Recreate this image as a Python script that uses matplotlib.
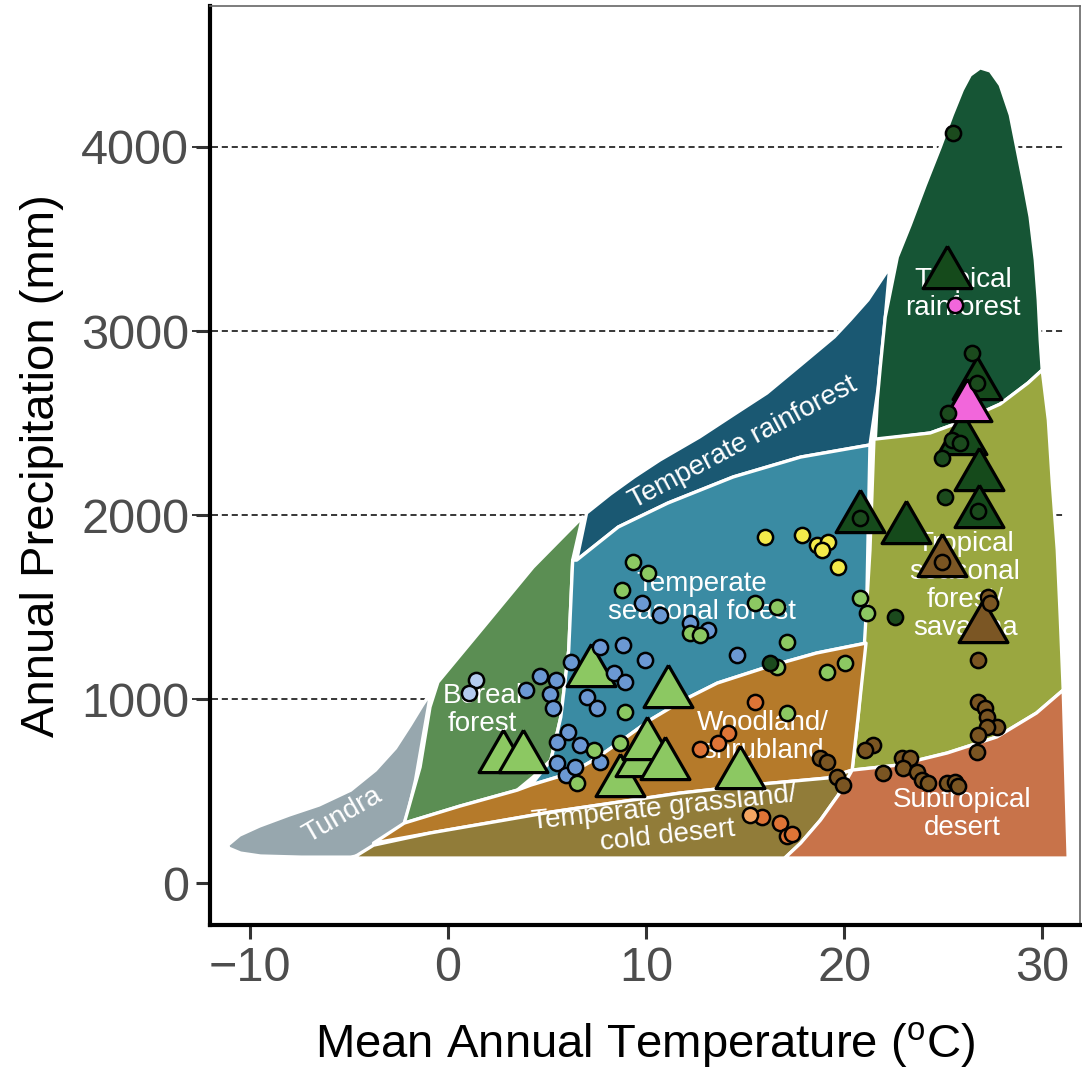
import matplotlib
matplotlib.use('Agg')
import matplotlib.pyplot as plt
from matplotlib.patches import Polygon

plt.rcParams['font.family'] = ['Liberation Sans', 'DejaVu Sans']

# biome outlines (temperature degC, precipitation mm)
tundra_t = [-11.1, -10.5, -9.5, -8.0, -6.5, -4.9, -3.65, -2.64, -1.89, -1.28, -0.87, -0.97, -1.28,
            -1.63, -1.99, -2.29, -2.79, -3.65, -4.9, -7.4, -9.45, -10.46, -11.06]
tundra_p = [207, 261, 310, 370, 424, 505, 614, 734, 859, 967, 1033, 967, 777,
            560, 397, 288, 217, 168, 141, 141, 147, 163, 190]

boreal_t = [6.8, 4.3, 1.8, -0.5, -0.9, -1.4, -2.2, 0.6, 3.5, 4.3, 5.2, 5.7, 6.1, 6.3]
boreal_p = [1990, 1717, 1391, 1092, 957, 630, 326, 418, 505, 576, 668, 902, 1266, 1755]

temp_rain_t = [6.5, 7.0, 8.2, 9.4, 10.7, 12.7, 14.4, 16.1, 17.8, 19.5, 20.3, 21.2, 22.3,
               22.0, 21.7, 21.3, 17.8, 14.4, 11.1, 8.6]
temp_rain_p = [1755, 2011, 2114, 2207, 2299, 2424, 2544, 2663, 2815, 2968, 3060, 3169, 3348,
               2989, 2680, 2381, 2315, 2207, 2065, 1935]

temp_seas_t = [6.5, 8.6, 11.1, 14.4, 17.8, 21.3, 21.2, 21.1, 18.6, 16.1, 13.6, 11.9, 10.2, 8.6,
               7.35, 6.2, 4.2, 5.2, 5.7, 6.1, 6.3]
temp_seas_p = [1755, 1935, 2065, 2207, 2315, 2381, 1864, 1304, 1250, 1174, 1087, 995, 886, 761,
               668, 598, 533, 668, 902, 1266, 1755]

trop_rain_t = [21.57, 21.67, 21.82, 22.07, 22.68, 23.33, 24.09, 24.85, 25.45, 25.96, 26.36, 26.86,
               27.37, 27.87, 28.38, 28.73, 29.08, 29.38, 29.64, 29.79, 29.89, 29.99,
               29.28, 27.87, 26.86, 25.60, 24.34]
trop_rain_p = [2408, 2625, 2804, 3076, 3402, 3576, 3793, 4000, 4174, 4310, 4391, 4430,
               4413, 4337, 4174, 3984, 3794, 3620, 3386, 3169, 2951, 2788,
               2718, 2603, 2554, 2495, 2446]

trop_seas_t = [21.5, 21.3, 21.0, 20.7, 20.4, 22.7, 25.2, 27.7, 29.7, 31.05, 30.9, 30.75, 30.5,
               30.3, 29.99, 29.28, 27.87, 26.86, 25.60, 24.34]
trop_seas_p = [2412, 1810, 1266, 902, 614, 641, 707, 794, 924, 1049, 1446, 1810, 2174,
               2516, 2788, 2718, 2603, 2554, 2495, 2446]

woodland_t = [4.2, 6.2, 7.35, 8.6, 10.2, 11.9, 13.6, 16.1, 18.6, 21.1, 20.7, 20.4, 19.15, 15.8,
              11.7, 5.2, -0.9, -3.75, -2.2, 0.6, 3.5]
woodland_p = [533, 598, 668, 761, 886, 995, 1087, 1174, 1250, 1304, 902, 614, 571, 538,
              489, 386, 272, 217, 326, 418, 505]

grass_t = [-4.8, -3.75, -0.9, 5.2, 11.7, 15.8, 19.15, 20.4, 19.7, 18.8, 17.8, 17.0]
grass_p = [136, 206, 272, 386, 489, 538, 571, 614, 478, 342, 217, 136]

desert_t = [31.05, 31.3, 17.0, 17.8, 18.8, 19.7, 20.4, 22.7, 25.2, 27.7, 29.7]
desert_p = [1049, 136, 136, 217, 342, 478, 614, 641, 707, 794, 924]

biomes = [
    (tundra_t, tundra_p, '#97A7AE'),
    (boreal_t, boreal_p, '#5B8E53'),
    (temp_rain_t, temp_rain_p, '#1A5872'),
    (temp_seas_t, temp_seas_p, '#3A8BA3'),
    (trop_rain_t, trop_rain_p, '#165535'),
    (trop_seas_t, trop_seas_p, '#9AA740'),
    (woodland_t, woodland_p, '#B57A2A'),
    (grass_t, grass_p, '#917C39'),
    (desert_t, desert_p, '#C8734A'),
]

biome_names = ['Tundra', 'Boreal\nforest', 'Temperate rainforest', 'Temperate\nseasonal forest',
               'Tropical\nrainforest', 'Tropical\nseasonal\nforest/\nsavanna', 'Woodland/\nshrubland',
               'Temperate grassland/\ncold desert', 'Subtropical\ndesert']
name_t = [-5.3, 1.75, 14.9, 12.8, 26.0, 26.1, 15.9, 11.0, 25.95]
name_p = [370, 940, 2390, 1549, 3201, 1614, 793, 332, 375]
name_rot = [30, 0, 28, 0, 0, 0, 0, 6, 0]

# site means (circles)
ltblue_t = [1.40, 1.09]
ltblue_p = [1103, 1033]

blue_t = [3.92, 4.67, 5.48, 5.18, 5.33, 6.19, 7.70, 8.86, 9.97, 8.36, 8.96, 7.04, 7.55, 6.04, 5.53,
          6.69, 5.53, 5.94, 6.44, 7.70, 9.82, 10.73, 12.24, 13.15, 14.61]
blue_p = [1049, 1125, 1103, 1027, 951, 1201, 1283, 1294, 1212, 1141, 1092, 1011, 951, 821, 766,
          750, 652, 587, 630, 658, 1522, 1457, 1413, 1375, 1239]

green_t = [9.36, 10.12, 8.81, 15.52, 16.63, 20.81, 21.16, 12.24, 12.74, 17.13, 16.63, 19.15, 20.06,
           17.13, 8.96, 7.35, 6.54, 8.71]
green_p = [1745, 1685, 1592, 1522, 1500, 1549, 1467, 1359, 1348, 1310, 1174, 1147, 1196,
           924, 929, 723, 544, 761]

yellow_t = [16.02, 17.89, 18.64, 19.20, 18.90, 19.70]
yellow_p = [1880, 1891, 1837, 1853, 1810, 1717]

orange_t = [15.52, 14.16, 13.65, 12.74, 15.87, 16.78, 17.13, 17.38]
orange_p = [984, 815, 761, 728, 359, 326, 255, 266]

ltorange_t = [15.27]
ltorange_p = [370]

dkgreen_t = [25.50, 26.46, 26.71, 25.25, 25.45, 25.85, 24.95, 25.10, 26.76, 20.81, 22.58, 16.27]
dkgreen_p = [4076, 2880, 2717, 2554, 2408, 2391, 2310, 2098, 2022, 1984, 1446, 1196]

brown_t = [24.95, 27.27, 27.37, 26.76, 26.76, 27.12, 27.22, 27.72, 27.22, 26.76, 26.71, 21.47, 21.06,
           22.93, 23.33, 22.98, 23.69, 23.94, 24.24, 21.97, 25.20, 25.60, 25.75, 18.79, 19.15, 19.65, 19.95]
brown_p = [1745, 1554, 1522, 1212, 984, 951, 902, 848, 848, 804, 712, 750, 723,
           679, 679, 625, 603, 560, 544, 598, 544, 549, 527, 679, 658, 576, 533]

pink_t = [25.60]
pink_p = [3141]

# group means (triangles)
tri_green_t = [7.20, 2.76, 3.77, 11.13, 8.71, 9.72, 10.07, 10.98, 14.76]
tri_green_p = [1147, 679, 679, 1033, 549, 658, 750, 641, 592]

tri_dkgreen_t = [25.20, 26.71, 25.95, 26.81, 26.81, 23.13, 20.81]
tri_dkgreen_p = [3310, 2707, 2408, 2212, 2011, 1924, 1984]

tri_brown_t = [24.95, 27.02]
tri_brown_p = [1745, 1386]

tri_pink_t = [26.21]
tri_pink_p = [2587]

fig = plt.figure(figsize=(10.82, 10.77), dpi=100)
ax = fig.add_axes([0.1941, 0.1411, 0.8041, 0.8533])
ax.set_xlim(-12.0, 31.9)
ax.set_ylim(-228, 4766)

ax.hlines([1000, 2000, 3000, 4000], -12.9, 31.05, colors='black', linestyles=(0, (4, 2.5)),
          linewidth=1.1, zorder=1, clip_on=False)

for t, p, c in biomes:
    ax.add_patch(Polygon(list(zip(t, p)), closed=True, facecolor=c, edgecolor='white',
                         linewidth=2.4, joinstyle='round', zorder=2))

for name, t, p, r in zip(biome_names, name_t, name_p, name_rot):
    ax.text(t, p, name, color='white', fontsize=20, rotation=r, rotation_mode='anchor',
            ha='center', va='center', linespacing=1.1, zorder=3)

# equilateral triangle centred on its centroid
tri = [(0, 1.1547), (-1, -0.57735), (1, -0.57735), (0, 1.1547)]
tri_kw = dict(marker=tri, s=1650, edgecolors='black', linewidths=2.3, zorder=4)
ax.scatter(tri_green_t, tri_green_p, c='#8CC862', **tri_kw)
ax.scatter(tri_dkgreen_t, tri_dkgreen_p, c='#154A1B', **tri_kw)
ax.scatter(tri_brown_t, tri_brown_p, c='#7B5624', **tri_kw)
ax.scatter(tri_pink_t, tri_pink_p, c='#F266DB', **tri_kw)

pt_kw = dict(marker='o', s=120, edgecolors='black', linewidths=1.8, zorder=5)
ax.scatter(ltblue_t, ltblue_p, c='#B4CBEE', **pt_kw)
ax.scatter(blue_t, blue_p, c='#6B98D3', **pt_kw)
ax.scatter(green_t, green_p, c='#8CC862', **pt_kw)
ax.scatter(yellow_t, yellow_p, c='#F4EA4A', **pt_kw)
ax.scatter(orange_t, orange_p, c='#DE7436', **pt_kw)
ax.scatter(ltorange_t, ltorange_p, c='#F3A563', **pt_kw)
ax.scatter(dkgreen_t, dkgreen_p, c='#1B4A1D', **pt_kw)
ax.scatter(brown_t, brown_p, c='#7A5522', **pt_kw)
ax.scatter(pink_t, pink_p, c='#F266DB', **pt_kw)

ax.set_xticks([-10, 0, 10, 20, 30])
ax.set_yticks([0, 1000, 2000, 3000, 4000])
ax.tick_params(axis='both', labelsize=35, labelcolor='#4D4D4D', color='#333333',
               length=10, width=2.2, pad=5)

for side in ['left', 'bottom']:
    ax.spines[side].set_linewidth(3.0)
    ax.spines[side].set_color('black')
for side in ['top', 'right']:
    ax.spines[side].set_linewidth(1.2)
    ax.spines[side].set_color('#666666')

ax.set_xlabel('Mean Annual Temperature ($\\mathregular{^oC}$)', fontsize=34, labelpad=21)
ax.set_ylabel('Annual Precipitation (mm)', fontsize=34, labelpad=12)

fig.savefig('out.png', dpi=100)
